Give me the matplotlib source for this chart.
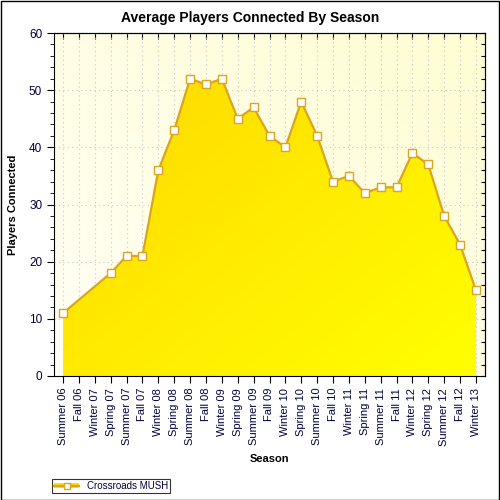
import numpy as np
import matplotlib
matplotlib.use('Agg')
import matplotlib.pyplot as plt
from matplotlib.lines import Line2D
from matplotlib.patches import Patch, Rectangle
from matplotlib.colors import LinearSegmentedColormap

plt.rcParams['font.family'] = ['Liberation Sans', 'DejaVu Sans']

seasons = ['Summer 06', 'Fall 06', 'Winter 07', 'Spring 07', 'Summer 07', 'Fall 07',
           'Winter 08', 'Spring 08', 'Summer 08', 'Fall 08', 'Winter 09', 'Spring 09',
           'Summer 09', 'Fall 09', 'Winter 10', 'Spring 10', 'Summer 10', 'Fall 10',
           'Winter 11', 'Spring 11', 'Summer 11', 'Fall 11', 'Winter 12', 'Spring 12',
           'Summer 12', 'Fall 12', 'Winter 13']
players = [11, None, None, 18, 21, 21,
           36, 43, 52, 51, 52, 45,
           47, 42, 40, 48, 42, 34,
           35, 32, 33, 33, 39, 37,
           28, 23, 15]

line_col = '#DAA520'
txt_col = '#000040'

fig = plt.figure(figsize=(5, 5), dpi=100)
ax = fig.add_axes([0.108, 0.248, 0.862, 0.686])

x = np.arange(len(seasons))
xv = np.array([i for i, v in enumerate(players) if v is not None])
yv = np.array([v for v in players if v is not None], dtype=float)

ax.set_xlim(-0.57, len(seasons) - 1 + 0.57)
ax.set_ylim(0, 60)
x0, x1 = ax.get_xlim()

# background gradient (light at bottom-left, creamier at top-right)
gx, gy = np.meshgrid(np.linspace(0, 1, 200), np.linspace(0, 1, 200))
bg = (gx + gy) / 2
bg_cmap = LinearSegmentedColormap.from_list('bg', ['#FFFFF6', '#FFFDD2'])
ax.imshow(bg, cmap=bg_cmap, extent=(x0, x1, 0, 60), origin='lower',
          aspect='auto', zorder=0)

ax.grid(True, color='#C8C8C8', linestyle=(0, (1, 3)), linewidth=0.8, zorder=1)

# area fill with gradient
poly = ax.fill_between(xv, yv, 0, color='none', zorder=2)
fg = (gx + (1 - gy)) / 2
fg_cmap = LinearSegmentedColormap.from_list('fg', ['#FFD500', '#FFFF00'])
im = ax.imshow(fg, cmap=fg_cmap, extent=(x0, x1, 0, 60), origin='lower',
               aspect='auto', zorder=2)
im.set_clip_path(poly.get_paths()[0], transform=ax.transData)

ax.plot(xv, yv, color=line_col, linewidth=1.6, marker='s', markersize=6,
        markerfacecolor='white', markeredgecolor=line_col, markeredgewidth=1,
        zorder=4, clip_on=False)

ax.set_xticks(x)
ax.set_xticklabels(seasons, rotation=90, fontsize=8, color=txt_col)
ax.set_yticks(range(0, 61, 10))
ax.set_yticks(range(0, 61, 2), minor=True)
ax.tick_params(axis='y', which='major', labelsize=8.5, labelcolor=txt_col, length=5)
ax.tick_params(axis='y', which='minor', length=3)
ax.tick_params(axis='x', length=5)

top = ax.secondary_xaxis('top')
top.set_xticks(x)
top.tick_params(direction='in', length=4, labeltop=False)
right = ax.secondary_yaxis('right')
right.set_yticks(range(0, 61, 2))
right.tick_params(direction='in', length=3, labelright=False)

fig.text(0.5, 0.964, 'Average Players Connected By Season', fontsize=10,
         fontweight='bold', ha='center', va='center')
ax.set_xlabel('Season', fontsize=8, fontweight='bold', labelpad=6)
ax.set_ylabel('Players Connected', fontsize=8, fontweight='bold', labelpad=8)

handle = (Patch(facecolor='#FFE000', edgecolor='none'),
          Line2D([], [], color=line_col, linewidth=1.6, marker='s', markersize=5,
                 markerfacecolor='white', markeredgecolor=line_col))
leg = fig.legend([handle], ['Crossroads MUSH'], loc='lower left',
                 bbox_to_anchor=(0.104, 0.014), fontsize=7, frameon=True,
                 fancybox=False, edgecolor='black', borderpad=0.2,
                 handlelength=2.6, handleheight=0.45, handletextpad=0.8,
                 borderaxespad=0)
leg.get_frame().set_linewidth(0.8)
for t in leg.get_texts():
    t.set_color(txt_col)

fig.patches.append(Rectangle((0.001, 0.001), 0.997, 0.997, transform=fig.transFigure,
                             fill=False, edgecolor='black', linewidth=1.0))

fig.savefig('out.png', dpi=100)
